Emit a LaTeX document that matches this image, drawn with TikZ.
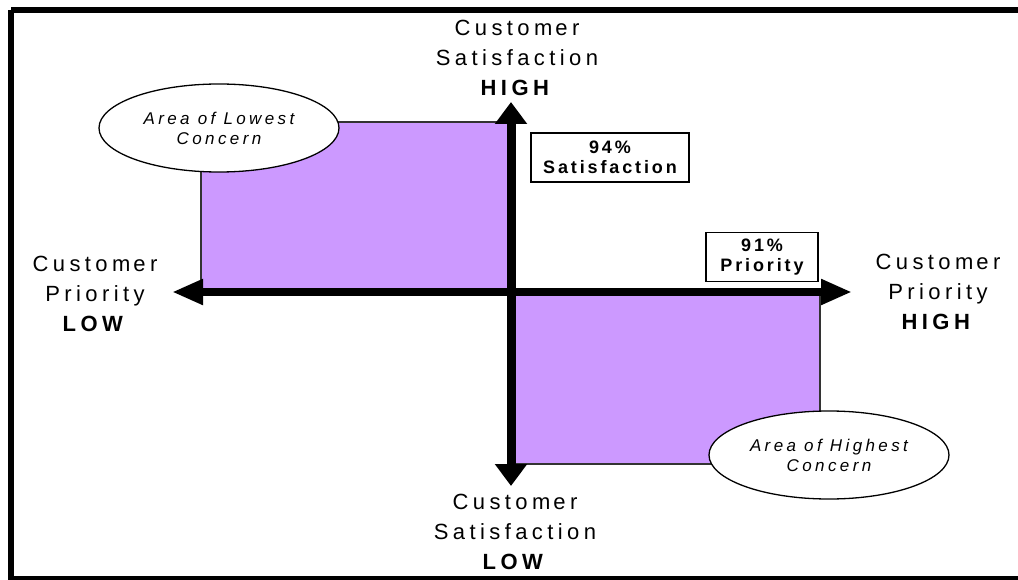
\documentclass[tikz,border=0pt]{standalone}
\usepackage{fontspec}
\setmainfont{Liberation Sans}
\newfontfamily\spacedfont[LetterSpace=20]{Liberation Sans}
\newfontfamily\calloutfont[LetterSpace=20]{Liberation Sans}
\newfontfamily\boxfont[LetterSpace=16]{Liberation Sans}
\usetikzlibrary{arrows.meta,shapes.geometric}
\definecolor{lavender}{HTML}{CC99FF}

\begin{document}
\begin{tikzpicture}[
  x=1pt, y=-1pt,
  frame/.style={draw, line width=6pt},
  quad/.style={fill=lavender, draw=black!80, line width=1.2pt},
  vaxis/.style={line width=9pt,
    {Triangle[length=22pt,width=31pt]}-{Triangle[length=22pt,width=31pt]}},
  haxis/.style={line width=8pt,
    {Triangle[length=31pt,width=24pt]}-{Triangle[length=31pt,width=24pt]}},
  axislbl/.style={align=center, inner sep=0pt, anchor=north,
    font=\spacedfont\fontsize{22}{30}\selectfont},
  area/.style={ellipse, draw, fill=white, line width=1.3pt,
    minimum width=240pt, minimum height=88pt, align=center, inner sep=0pt,
    font=\calloutfont\itshape\fontsize{17}{20}\selectfont},
  pctbox/.style={draw, fill=white, line width=1.3pt, align=center,
    minimum height=49pt, inner sep=0pt,
    font=\boxfont\bfseries\fontsize{18}{20}\selectfont},
]
\useasboundingbox (0,0) rectangle (1018,580);

% ---- outer frame --------------------------------------------------------
\draw[frame] (11,10) -- (1200,10);
\draw[frame] (11,10) -- (11,579) -- (1200,579);

% ---- shaded quadrants ---------------------------------------------------
\filldraw[quad] (201,122) rectangle (511,292);
\filldraw[quad] (511,292) rectangle (820,464);

% ---- axes ---------------------------------------------------------------
\coordinate (satHigh)  at (511,102);
\coordinate (satLow)   at (511,486);
\coordinate (prioLow)  at (172,292);
\coordinate (prioHigh) at (852,292);

\draw[vaxis] (satLow) -- (satHigh);
\draw[haxis] (prioLow) -- (prioHigh);

% ---- axis labels --------------------------------------------------------
\node[axislbl] (topLbl)    at (517,20)  {Custom\kern3pt er\\Satisfaction\\\textbf{HIGH}};
\node[axislbl] (bottomLbl) at (515,494) {Custom\kern3pt er\\Satisfaction\\\textbf{LOW}};
\node[axislbl] (leftLbl)   at (95,256)  {Custom\kern3pt er\\Priority\\\textbf{LOW}};
\node[axislbl] (rightLbl)  at (938,254) {Custom\kern3pt er\\Priority\\\textbf{HIGH}};

% ---- threshold boxes ----------------------------------------------------
\node[pctbox, minimum width=158pt] (satBox)  at (610,157.5) {94\%\\Satisfaction};
\node[pctbox, minimum width=112pt] (prioBox) at (762,257)   {91\%\\Priority};

% ---- area callouts ------------------------------------------------------
\node[area] (lowest)  at (219,128) {Area of Lowest\\Concern};
\node[area] (highest) at (829,455) {Area of Highest\\Concern};

\end{tikzpicture}
\end{document}
